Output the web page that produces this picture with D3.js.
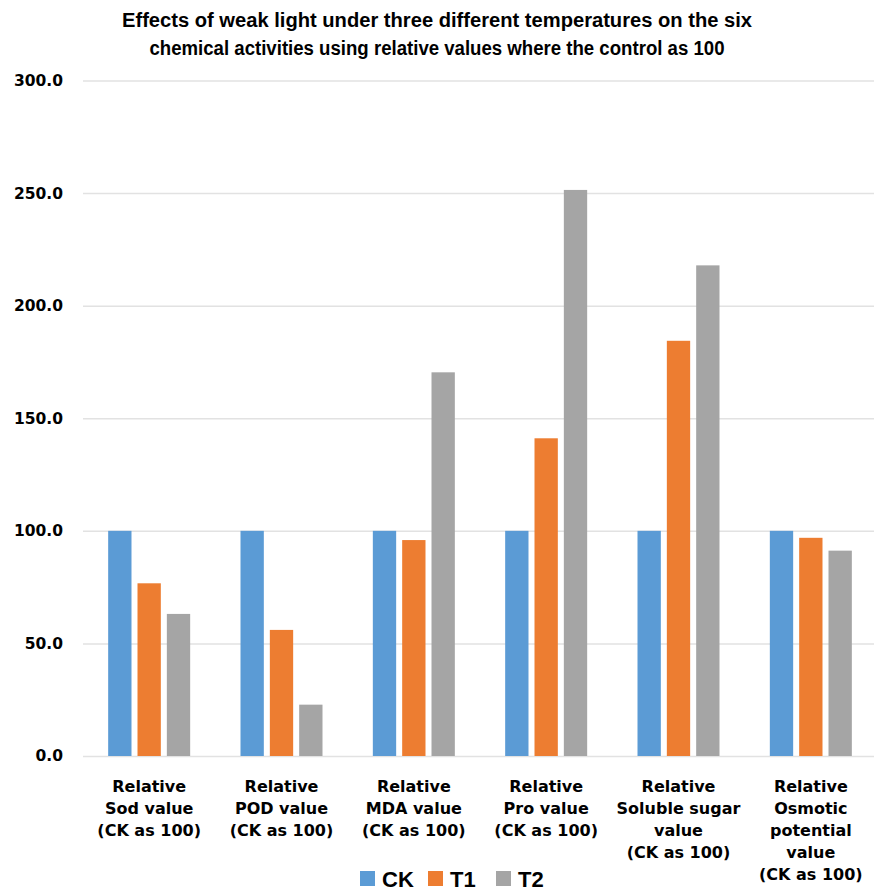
<!DOCTYPE html>
<html>
<head>
<meta charset="utf-8">
<script src="https://cdn.jsdelivr.net/npm/d3@7"></script>
<style>
  html, body { margin: 0; padding: 0; background: #fff; }
  svg { display: block; }
</style>
</head>
<body>
<svg id="chart" width="874" height="892"></svg>
<script>
// Relative values of six indicators (control CK = 100)
const categories = [
  ["Relative", "Sod value", "(CK as 100)"],
  ["Relative", "POD value", "(CK as 100)"],
  ["Relative", "MDA value", "(CK as 100)"],
  ["Relative", "Pro value", "(CK as 100)"],
  ["Relative", "Soluble sugar", "value", "(CK as 100)"],
  ["Relative", "Osmotic", "potential", "value", "(CK as 100)"]
];
const seriesNames = ["CK", "T1", "T2"];
const ckValues = [100, 100, 100, 100, 100, 100];
const t1Values = [76.7, 56.0, 95.9, 141.1, 184.4, 96.9];
const t2Values = [63.1, 22.8, 170.4, 251.4, 217.9, 91.2];
const colors = ["#5b9bd5", "#ed7d31", "#a5a5a5"];
const yTicks = [0, 50, 100, 150, 200, 250, 300];
const titleLines = [
  "Effects of weak light under three different temperatures on the six",
  "chemical activities using relative values where the control as 100"
];

const seriesValues = [ckValues, t1Values, t2Values];
const svg = d3.select("#chart");

const plot = { left: 83, right: 877, top: 80.5, bottom: 756 };

const x0 = d3.scaleBand()
  .domain(d3.range(categories.length))
  .range([plot.left, plot.right])
  .paddingInner(0).paddingOuter(0);

const clusterWidth = 82;
const x1 = d3.scaleBand()
  .domain(seriesNames)
  .range([-clusterWidth / 2, clusterWidth / 2])
  .paddingInner(0.205).paddingOuter(0);

const y = d3.scaleLinear().domain([0, 300]).range([plot.bottom, plot.top]);

// Title
const title = svg.append("text")
  .attr("x", 437)
  .attr("text-anchor", "middle")
  .style("font-family", "'Liberation Sans', Arial, sans-serif")
  .style("font-weight", "bold")
  .style("font-size", "20px")
  .attr("fill", "#000");
title.selectAll("tspan").data(titleLines).join("tspan")
  .attr("x", 437)
  .attr("y", (d, i) => 27 + i * 28)
  .attr("textLength", (d, i) => [630, 575][i])
  .attr("lengthAdjust", "spacingAndGlyphs")
  .text(d => d);

// Y axis with gridlines
const yAxis = d3.axisLeft(y)
  .tickValues(yTicks)
  .tickFormat(d3.format(".1f"))
  .tickSize(-(874 - plot.left))
  .tickPadding(20);

const gy = svg.append("g")
  .attr("transform", `translate(${plot.left},0)`)
  .call(yAxis);
gy.select(".domain").remove();
gy.selectAll(".tick line").attr("stroke", "#e2e2e2").attr("stroke-width", 1.5);
gy.selectAll(".tick text")
  .attr("fill", "#000")
  .style("font-family", "'DejaVu Sans', Verdana, sans-serif")
  .style("font-weight", "bold")
  .style("font-size", "15.5px");

// Bars
const groups = svg.append("g").selectAll("g")
  .data(categories.map((c, i) => i))
  .join("g")
  .attr("transform", i => `translate(${x0(i) + x0.bandwidth() / 2},0)`);

groups.selectAll("rect")
  .data(i => seriesNames.map((s, k) => ({ s, k, v: seriesValues[k][i] })))
  .join("rect")
  .attr("x", d => x1(d.s))
  .attr("width", x1.bandwidth())
  .attr("y", d => y(d.v))
  .attr("height", d => y(0) - y(d.v))
  .attr("fill", d => colors[d.k]);

// Category labels
const catLabel = svg.append("g").selectAll("text")
  .data(categories)
  .join("text")
  .attr("text-anchor", "middle")
  .style("font-family", "'DejaVu Sans', Verdana, sans-serif")
  .style("font-weight", "bold")
  .style("font-size", "16px")
  .attr("fill", "#000");
catLabel.each(function(lines, i) {
  const cx = x0(i) + x0.bandwidth() / 2;
  d3.select(this).selectAll("tspan").data(lines).join("tspan")
    .attr("x", cx)
    .attr("y", (d, j) => 792 + j * 22)
    .text(d => d);
});

// Legend
const legendX = [360, 428, 496];
const legend = svg.append("g").selectAll("g")
  .data(seriesNames)
  .join("g")
  .attr("transform", (d, i) => `translate(${legendX[i]},871)`);
legend.append("rect")
  .attr("width", 15).attr("height", 15)
  .attr("fill", (d, i) => colors[i]);
legend.append("text")
  .attr("x", 22).attr("y", 16)
  .style("font-family", "'Liberation Sans', Arial, sans-serif")
  .style("font-weight", "bold")
  .style("font-size", "22px")
  .attr("fill", "#000")
  .text(d => d);
</script>
</body>
</html>
